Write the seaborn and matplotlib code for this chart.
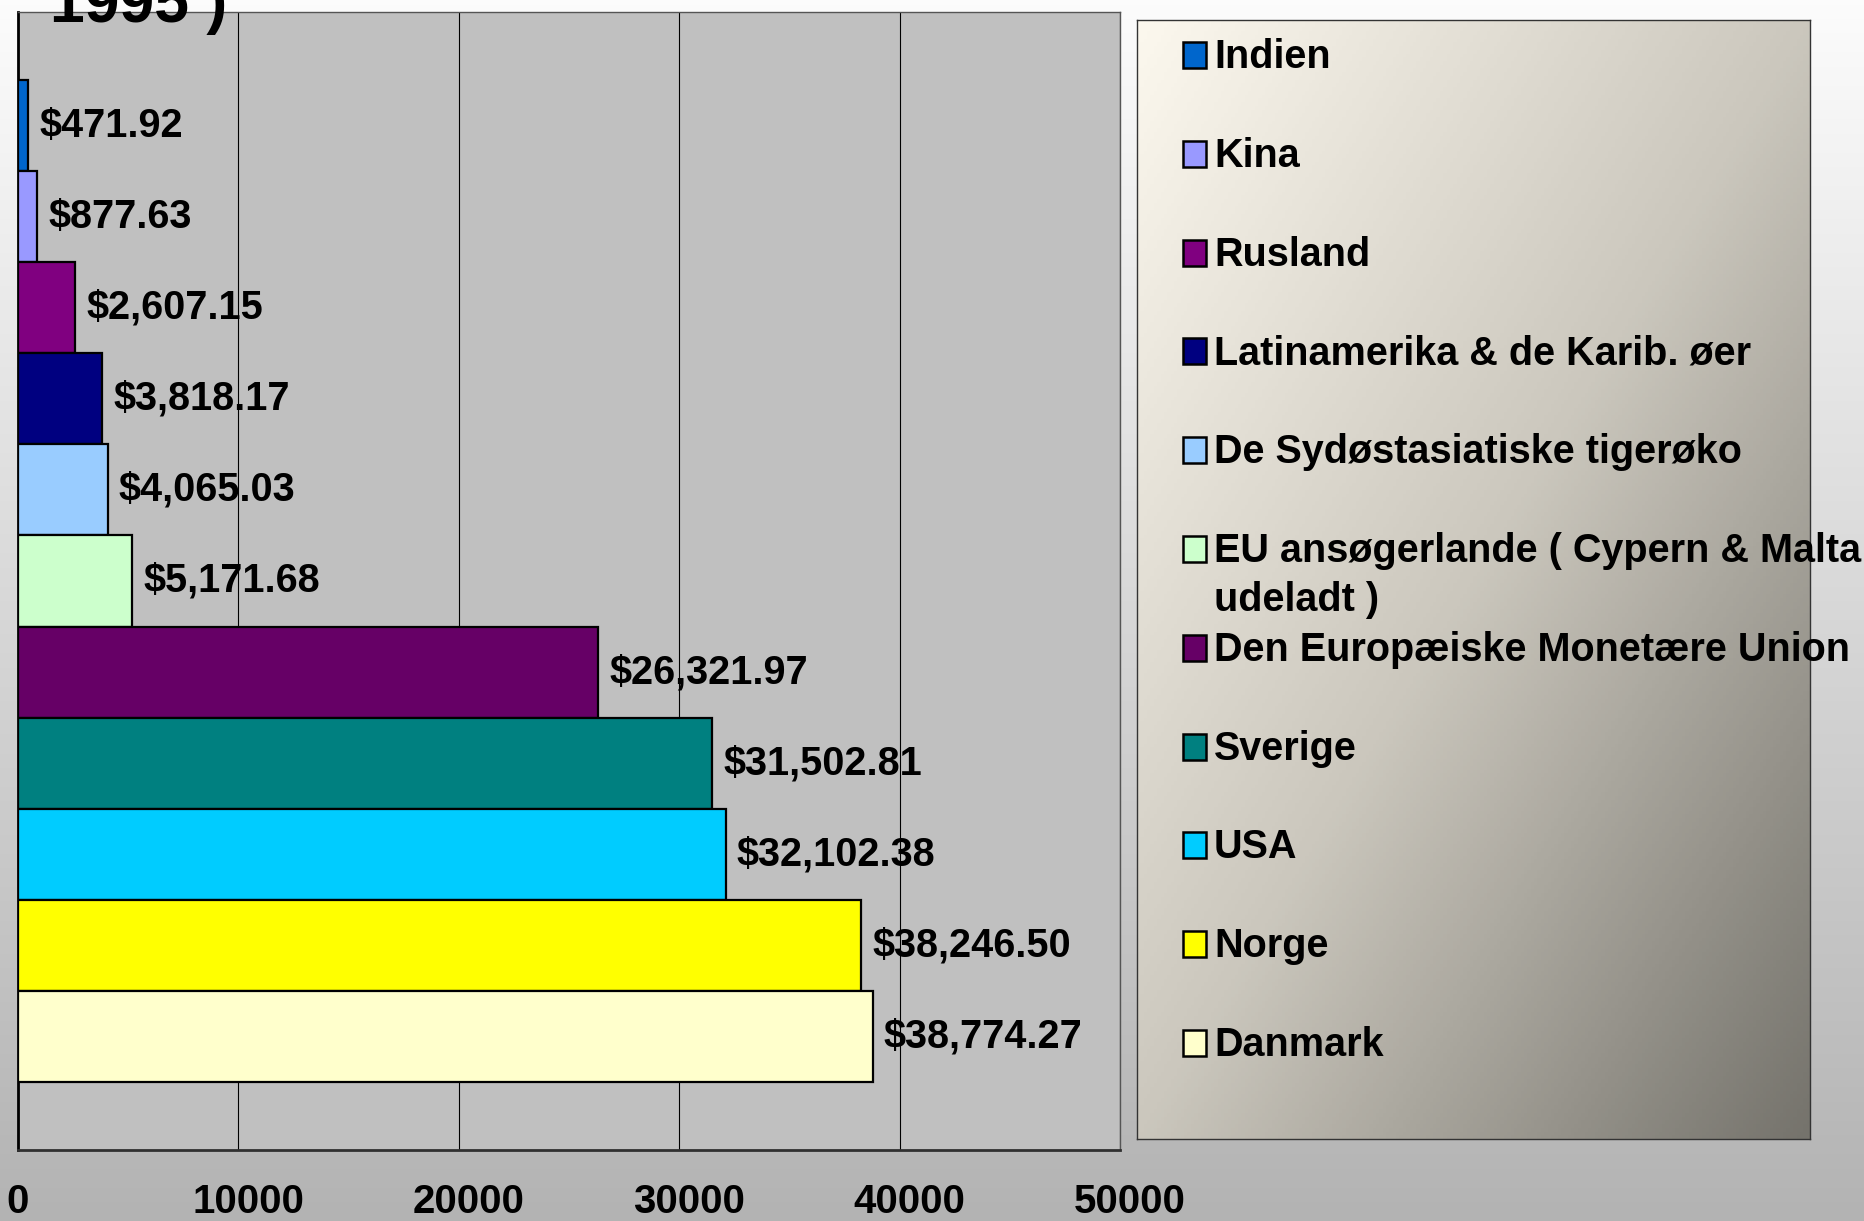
import numpy as np
import seaborn as sns
import matplotlib.pyplot as plt
import matplotlib.transforms as mtransforms
from matplotlib.colors import LinearSegmentedColormap
from matplotlib.patches import Rectangle


# data
countries = ['Indien', 'Kina', 'Rusland', 'Latinamerika & de Karib. øer',
             'De Sydøstasiatiske tigerøko',
             'EU ansøgerlande ( Cypern & Malta\nudeladt )',
             'Den Europæiske Monetære Union', 'Sverige', 'USA', 'Norge', 'Danmark']
gdp = [471.92, 877.63, 2607.15, 3818.17, 4065.03, 5171.68,
       26321.97, 31502.81, 32102.38, 38246.50, 38774.27]
colors = ['#0066cc', '#9999ff', '#800080', '#000080', '#99ccff', '#ccffcc',
          '#660066', '#008080', '#00ccff', '#ffff00', '#ffffcc']
x_ticks = [0, 10000, 20000, 30000, 40000, 50000]
title_tail = '1995 )'

sns.set_style('white')
plt.rcParams['font.family'] = ['Liberation Sans', 'DejaVu Sans']
plt.rcParams['font.weight'] = 'bold'
plt.rcParams['text.color'] = 'black'
plt.rcParams['xtick.color'] = 'black'
plt.rcParams['ytick.color'] = 'black'

W, H = 1865, 1221
fig = plt.figure(figsize=(W / 100, H / 100), dpi=100)


def box(x0, y0, x1, y1):
    # pixel box (top-left origin) -> figure fraction rect
    return [x0 / W, 1 - y1 / H, (x1 - x0) / W, (y1 - y0) / H]


# slide background: light at top, grey at bottom
bg = fig.add_axes([0, 0, 1, 1], zorder=-10)
bg_cmap = LinearSegmentedColormap.from_list('bg', ['#fcfcfc', '#b3b3b3'])
bg.imshow(np.linspace(0, 1, 256).reshape(-1, 1), cmap=bg_cmap, aspect='auto',
          extent=(0, 1, 0, 1))
bg.axis('off')

# main bar chart
ax = fig.add_axes(box(18, 12, 1120, 1150))
ax.set_facecolor('#c0c0c0')
sns.barplot(x=gdp, y=countries, hue=countries, palette=colors, orient='h',
            width=1.0, saturation=1, edgecolor='black', linewidth=1.6,
            legend=False, ax=ax, zorder=3)

for cont in ax.containers:
    ax.bar_label(cont, labels=[f'${v:,.2f}' for v in cont.datavalues],
                 padding=8, fontsize=28.5, fontweight='bold', color='black')

n = len(countries)
ax.set_ylim(n - 0.5 + 0.75, -0.5 - 0.75)
ax.set_xlim(0, 50000)
ax.set_xticks(x_ticks)
ax.set_xticklabels([str(t) for t in x_ticks], fontsize=29, fontweight='bold')
ax.set_yticks(np.arange(-0.5, n, 1.0).tolist() + [n - 0.5 + 0.75, -1.25])
ax.set_yticklabels([])
ax.tick_params(axis='x', direction='out', length=8, width=1, pad=16)
ax.tick_params(axis='y', direction='out', length=7, width=1)
# the wide labels sit a little right of their tick, as in the original
shift = mtransforms.ScaledTranslation(10 / 100, 0, fig.dpi_scale_trans)
for t, lab in zip(x_ticks, ax.get_xticklabels()):
    if t > 0:
        lab.set_transform(lab.get_transform() + shift)
ax.xaxis.grid(True, color='black', linewidth=0.8, zorder=0)
ax.set_axisbelow(True)
ax.set_xlabel('')
ax.set_ylabel('')
ax.spines['bottom'].set_color('#303030')
ax.spines['bottom'].set_linewidth(2)
ax.spines['left'].set_color('black')
ax.spines['left'].set_linewidth(2)
for s in ['top', 'right']:
    ax.spines[s].set_color('#555555')
    ax.spines[s].set_linewidth(1)

# leftover of the slide title, cut off by the top edge
fig.text(50 / W, 1 - 22 / H, title_tail, fontsize=45, fontweight='bold',
         va='baseline', ha='left')

# hand-drawn legend box with diagonal gradient
lx0, ly0, lx1, ly1 = 1137, 20, 1810, 1139
lax = fig.add_axes(box(lx0, ly0, lx1, ly1))
leg_cmap = LinearSegmentedColormap.from_list('leg', [(0, '#fcf8ee'), (0.5, '#cbc7bd'),
                                                     (1, '#75736c')])
gx, gy = np.meshgrid(np.linspace(0, 1, 200), np.linspace(0, 1, 300))
lax.imshow((gx + gy) / 2, cmap=leg_cmap, aspect='auto', extent=(0, 1, 0, 1),
           origin='upper', vmin=0, vmax=1)
lax.set_xticks([])
lax.set_yticks([])
for s in lax.spines.values():
    s.set_color('#333333')
    s.set_linewidth(1)

for i, (name, c) in enumerate(zip(countries, colors)):
    base = 68 + 98.8 * i
    fig.patches.append(Rectangle((1183 / W, 1 - base / H), 23 / W, 26 / H,
                                 transform=fig.transFigure, facecolor=c,
                                 edgecolor='black', linewidth=1.8, zorder=5))
    for j, line in enumerate(name.split('\n')):
        fig.text(1214 / W, 1 - (base + 49 * j) / H, line, fontsize=28.5,
                 fontweight='bold', va='baseline', ha='left', zorder=6)

fig.savefig('out.png', dpi=100)
